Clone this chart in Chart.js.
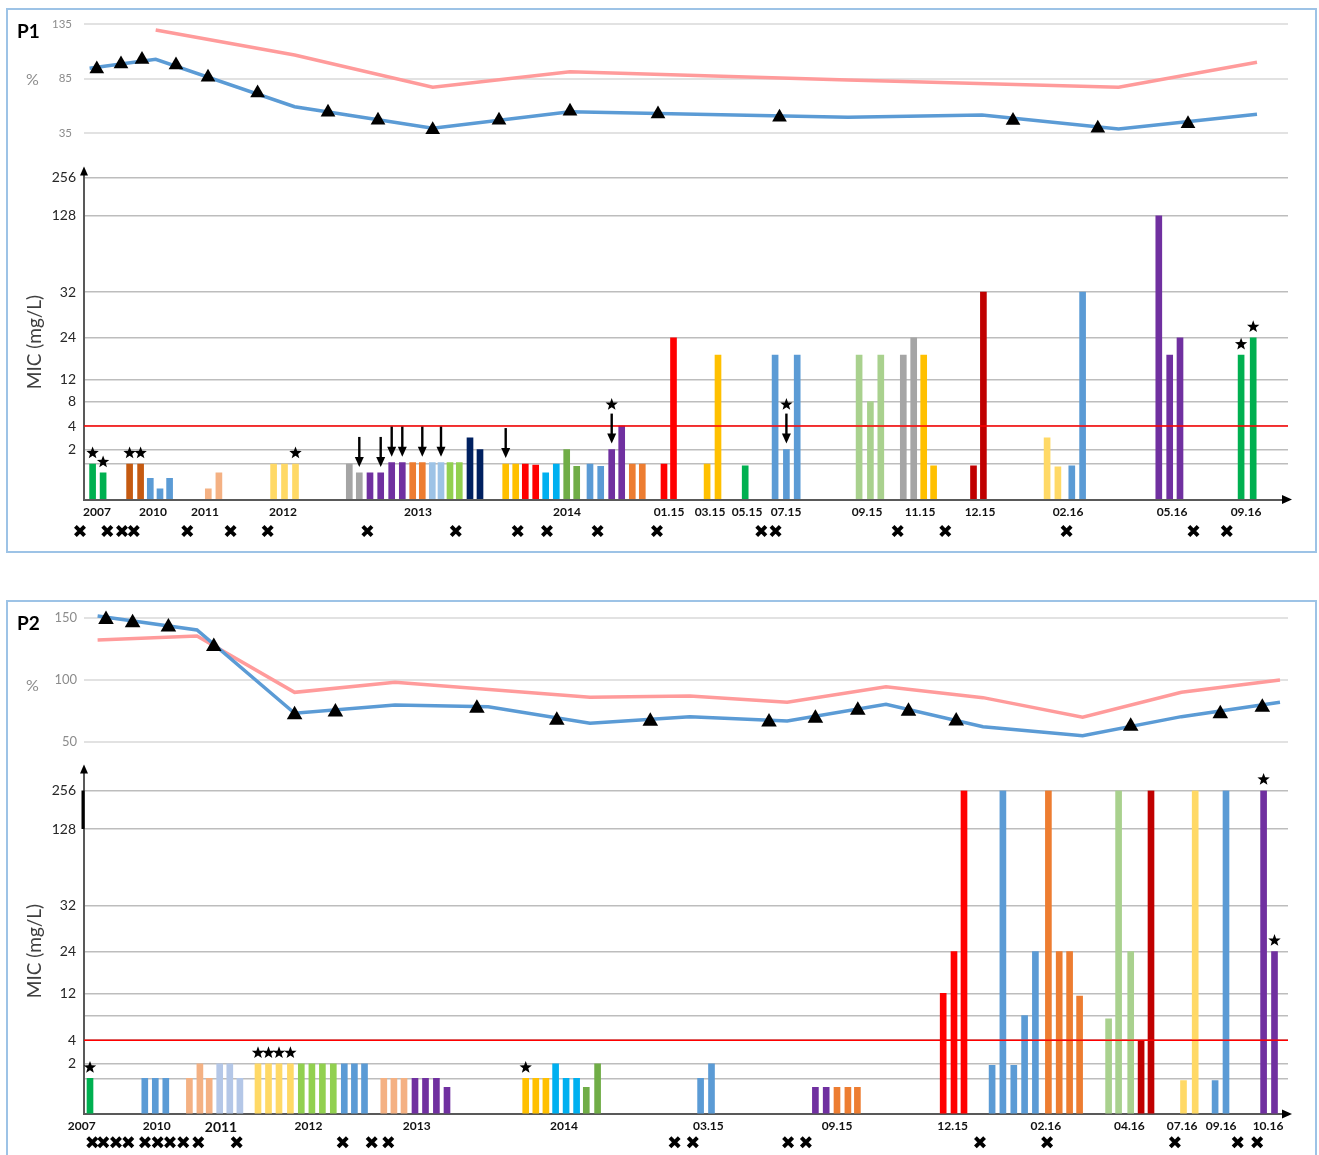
<!DOCTYPE html>
<html lang="en">
<head>
<meta charset="UTF-8">
<title>P1 / P2 - % and MIC (mg/L)</title>
<script src="https://cdn.jsdelivr.net/npm/chart.js"></script>
<style>
  body { margin: 0; background: #fff; font-family: 'Lato', sans-serif; }
  .page { position: relative; width: 1319px; height: 1155px; overflow: hidden; background: #fff; }
  .panel { position: absolute; left: 6px; width: 1307px; border: 2px solid #9dc3e6; }
  canvas { position: absolute; left: 0; }
  .txt { position: absolute; line-height: 1; white-space: nowrap; transform: translateY(-50%); }
  .tag { left: 17px; font-size: 19px; font-weight: bold; color: #000; }
  .pct { left: 26px; font-size: 16px; color: #8c8c8c; }
  .mic { left: 33px; font-size: 19px; color: #404040; transform: translate(-50%, -50%) rotate(-90deg); }
</style>
</head>
<body>
<div class="page">
  <div class="panel" style="top:8px;height:541px"></div>
  <div class="panel" style="top:600px;height:600px"></div>

  <canvas id="p1Top" width="1319" height="160" style="top:0"></canvas>
  <canvas id="p1Bar" width="1319" height="410" style="top:150px"></canvas>
  <canvas id="p2Top" width="1319" height="170" style="top:590px"></canvas>
  <canvas id="p2Bar" width="1319" height="395" style="top:760px"></canvas>

  <div class="txt tag" style="top:30px">P1</div>
  <div class="txt pct" style="top:79px">%</div>
  <div class="txt mic" style="top:342px">MIC (mg/L)</div>
  <div class="txt tag" style="top:622px">P2</div>
  <div class="txt pct" style="top:685px">%</div>
  <div class="txt mic" style="top:951px">MIC (mg/L)</div>
</div>

<script>
// x values are positions along the (irregular) sampling axis, one unit = one bar slot
const X_MAX = 120.4;

// MIC axis of the original is not proportional: level -> axis position
const micLevels = [0, 1, 2, 4, 8, 12, 24, 32, 128, 256];
const micLevelPos = [0, 11, 15.5, 22.8, 30.4, 37.3, 50.2, 64.4, 88.1, 100];
const micBreakpoint = 4;

// ---- P1 ----
const p1BlueX = [0.56, 7.17, 21.06, 34.87, 48.6, 76.4, 89.8, 103.46, 117.3];
const p1BlueY = [94.4, 102.6, 59.1, 39.3, 54.5, 49.4, 51.5, 38.7, 52.2];
const p1PinkX = [7.17, 21.06, 34.87, 48.6, 76.4, 103.46, 117.3];
const p1PinkY = [129.5, 106.6, 77, 91.2, 83.6, 77, 99.9];
const p1TriX = [1.28, 3.7, 5.8, 9.2, 12.4, 17.36, 24.4, 29.4, 34.87, 41.5, 48.6, 57.4, 69.55, 92.9, 101.38, 110.4];
const p1TriY = [93.8, 98.4, 102.4, 97.5, 86.2, 71.8, 54.1, 46.8, 37.9, 46.8, 55, 52.5, 49.5, 46.5, 39.4, 43.4];

const p1BarX = [0.86, 1.91, 4.56, 5.66, 6.63, 7.6, 8.56, 12.43, 13.49, 18.96, 20.05, 21.15,
  26.53, 27.53, 28.6, 29.67, 30.77, 31.83, 32.87, 33.83, 34.83, 35.7, 36.6, 37.53, 38.6, 39.6,
  42.17, 43.17, 44.13, 45.17, 46.17, 47.23, 48.27, 49.27, 50.6, 51.67, 52.77, 53.77, 54.83, 55.83,
  58.0, 58.95,
  62.31, 63.4, 66.12, 69.11, 70.24, 71.32, 77.51, 78.64, 79.68, 81.93, 82.97, 83.97, 84.96,
  88.95, 89.94, 96.31, 97.39, 98.78, 99.86, 107.48, 108.57, 109.6, 115.71, 116.92];
const p1BarMic = [1, 0.75, 1, 1, 0.6, 0.3, 0.6, 0.3, 0.75, 1, 1, 1,
  1, 0.75, 0.75, 0.75, 1.1, 1.1, 1.1, 1.1, 1.1, 1.1, 1.1, 1.1, 3, 2,
  1, 1, 1, 0.97, 0.75, 1, 2, 0.94, 1, 0.94, 2, 4, 1, 1,
  1, 24,
  1, 19, 0.95, 19, 2, 19, 19, 8, 19, 19, 24, 19, 0.95,
  0.95, 32, 3, 0.92, 0.95, 32, 128, 19, 24, 19, 24];
const p1Stars = [0, 1, 2, 3, 11, 36, 46, 64, 65];
const p1Arrows = [13, 15, 16, 17, 19, 21, 26, 36, 46];
const p1TickX = [1.3, 6.9, 12.1, 19.9, 33.4, 48.3, 58.5, 62.6, 66.3, 70.2, 78.3, 83.6, 89.6, 98.4, 108.8, 116.2];
const p1Ticks = ['2007', '2010', '2011', '2012', '2013', '2014', '01.15', '03.15', '05.15', '07.15', '09.15', '11.15', '12.15', '02.16', '05.16', '09.16'];
const p1CrossX = [-0.4, 2.33, 3.8, 4.98, 10.33, 14.66, 18.37, 28.34, 37.18, 43.37, 46.3, 51.36, 57.3,
  67.73, 69.16, 81.37, 86.13, 98.26, 110.95, 114.28];
const p1MicLabels = ['', '', '2', '4', '8', '12', '24', '32', '128', '256'];

// ---- P2 ----
const p2BlueX = [1.36, 11.3, 21.06, 31.1, 40.42, 50.6, 60.58, 70.32, 80.2, 89.9, 99.86, 109.74, 119.6];
const p2BlueY = [151.9, 140.5, 73, 79.7, 78.4, 64.9, 70.3, 66.8, 80.3, 62.2, 54.9, 70.3, 81.9];
const p2PinkX = [1.36, 11.3, 21.06, 31.1, 50.6, 60.58, 70.32, 80.2, 89.9, 99.86, 109.74, 119.6];
const p2PinkY = [132.4, 135.7, 90, 98.1, 86, 87, 81.9, 94.6, 85.7, 69.8, 90, 100];
const p2TriX = [2.2, 4.86, 8.44, 12.98, 21.06, 25.14, 39.29, 47.28, 56.63, 68.5, 73.14, 77.38, 82.45, 87.22, 104.67, 113.63, 117.83];
const p2TriY = [149.1, 146.4, 142.9, 127.2, 71.8, 74, 77.2, 67.3, 66.5, 65.9, 69.1, 75.4, 74.6, 66.7, 62.6, 72.6, 78];

const p2BarX = [0.6, 6.08, 7.13, 8.18, 10.54, 11.59, 12.52, 13.57, 14.58, 15.59,
  17.4, 18.45, 19.5, 20.64, 21.73, 22.79, 23.84, 24.93, 26.03, 27.04, 28.05,
  29.98, 30.99, 32.0, 33.1, 34.15, 35.24, 36.3,
  44.17, 45.18, 46.19, 47.16, 48.21, 49.26, 50.23, 51.36,
  61.66, 62.75, 73.14, 74.22, 75.3, 76.39, 77.34,
  85.92, 87.0, 88.0, 90.81, 91.89, 92.98, 94.06, 95.14, 96.44, 97.52, 98.56, 99.56,
  102.46, 103.46, 104.67, 105.71, 106.7, 109.95, 111.12, 113.11, 114.2, 117.96, 119.05];
const p2BarMic = [1, 1, 1, 1, 1, 2, 1, 2, 2, 1,
  2, 2, 2, 2, 2, 2, 2, 2, 2, 2, 2,
  1, 1, 1, 1, 1, 1, 0.75,
  1, 1, 1, 2, 1, 1, 0.75, 2,
  1, 2, 0.75, 0.75, 0.75, 0.75, 0.75,
  12, 24, 256, 1.9, 256, 1.9, 8, 24, 256, 24, 24, 11.5,
  7.5, 256, 24, 4, 256, 0.94, 256, 0.94, 256, 256, 24];
const p2Stars = [0, 10, 11, 12, 13, 28, 64, 65];
const p2Arrows = [];
const p2TickX = [-0.23, 7.27, 13.7, 22.45, 33.27, 48, 62.44, 75.3, 86.87, 96.18, 104.54, 109.82, 113.72, 118.4];
const p2Ticks = ['2007', '2010', '2011', '2012', '2013', '2014', '03.15', '09.15', '12.15', '02.16', '04.16', '07.16', '09.16', '10.16'];
const p2CrossX = [0.83, 1.93, 3.2, 4.43, 6.1, 7.37, 8.6, 9.93, 11.43, 15.27, 25.87, 28.77, 30.43,
  59.06, 60.88, 70.41, 72.19, 89.6, 96.31, 109.09, 115.37, 117.32];
const p2MicLabels = ['', '', '2', '4', '', '12', '24', '32', '128', '256'];

// bar colours (one colour per isolate type)
const GREEN = '#00b050', BROWN = '#c55a11', BLUE = '#5b9bd5', PEACH = '#f4b183', YELLOW = '#ffd966',
  GREY = '#a5a5a5', PURPLE = '#7030a0', ORANGE = '#ed7d31', PALEBLUE = '#9dc3e6', LIME = '#92d050',
  NAVY = '#002060', GOLD = '#ffc000', RED = '#ff0000', CYAN = '#00b0f0', OLIVE = '#70ad47',
  SAGE = '#a9d18e', DARKRED = '#c00000', LAVENDER = '#b4c7e7';

function runs(list) {
  const out = [];
  list.forEach(([c, n]) => { for (let i = 0; i < n; i++) out.push(c); });
  return out;
}

const p1BarColors = runs([[GREEN, 2], [BROWN, 2], [BLUE, 3], [PEACH, 2], [YELLOW, 3],
  [GREY, 2], [PURPLE, 4], [ORANGE, 2], [PALEBLUE, 2], [LIME, 2], [NAVY, 2],
  [GOLD, 2], [RED, 2], [CYAN, 2], [OLIVE, 2], [BLUE, 2], [PURPLE, 2], [ORANGE, 2],
  [RED, 2], [GOLD, 2], [GREEN, 1], [BLUE, 3], [SAGE, 3], [GREY, 2], [GOLD, 2],
  [DARKRED, 2], [YELLOW, 2], [BLUE, 2], [PURPLE, 3], [GREEN, 2]]);
const p2BarColors = runs([[GREEN, 1], [BLUE, 3], [PEACH, 3], [LAVENDER, 3], [YELLOW, 4], [LIME, 4],
  [BLUE, 3], [PEACH, 3], [PURPLE, 4], [GOLD, 3], [CYAN, 3], [OLIVE, 2], [BLUE, 2], [PURPLE, 2],
  [ORANGE, 3], [RED, 3], [BLUE, 5], [ORANGE, 4], [SAGE, 3], [DARKRED, 2], [YELLOW, 2], [BLUE, 2], [PURPLE, 2]]);

function micToAxis(v) {
  for (let i = 1; i < micLevels.length; i++) {
    if (v <= micLevels[i]) {
      const t = (v - micLevels[i - 1]) / (micLevels[i] - micLevels[i - 1]);
      return micLevelPos[i - 1] + t * (micLevelPos[i] - micLevelPos[i - 1]);
    }
  }
  return micLevelPos[micLevelPos.length - 1];
}

const zip = (xs, ys) => xs.map((x, i) => ({ x, y: ys[i] }));

Chart.defaults.font.family = 'Lato';
Chart.defaults.animation = false;
Chart.defaults.plugins.legend.display = false;
Chart.defaults.plugins.tooltip.enabled = false;

function drawStar(ctx, x, y, r) {
  ctx.beginPath();
  for (let i = 0; i < 10; i++) {
    const rr = i % 2 ? r * 0.42 : r;
    const a = -Math.PI / 2 + i * Math.PI / 5;
    ctx.lineTo(x + rr * Math.cos(a), y + rr * Math.sin(a));
  }
  ctx.closePath();
  ctx.fill();
}

function drawArrow(ctx, x, tip, len) {
  ctx.lineWidth = 2.4;
  ctx.beginPath();
  ctx.moveTo(x, tip - len);
  ctx.lineTo(x, tip - 8);
  ctx.stroke();
  ctx.beginPath();
  ctx.moveTo(x - 4.5, tip - 10);
  ctx.lineTo(x + 4.5, tip - 10);
  ctx.lineTo(x, tip);
  ctx.closePath();
  ctx.fill();
}

function drawCross(ctx, x, y) {
  ctx.lineWidth = 3.9;
  ctx.beginPath();
  ctx.moveTo(x - 4.6, y - 4.6); ctx.lineTo(x + 4.6, y + 4.6);
  ctx.moveTo(x + 4.6, y - 4.6); ctx.lineTo(x - 4.6, y + 4.6);
  ctx.stroke();
}

// stars, arrows, crosses and axis arrow heads
const marks = {
  id: 'marks',
  afterDraw(chart, args, o) {
    if (!o || !o.crosses) return;
    const { ctx, chartArea: a, scales: { x, y } } = chart;
    const bars = chart.getDatasetMeta(0).data;
    ctx.save();
    ctx.fillStyle = '#000';
    ctx.strokeStyle = '#000';
    o.arrows.forEach(i => drawArrow(ctx, bars[i].x, bars[i].y - 6, 30));
    o.stars.forEach(i => {
      const cy = o.arrows.includes(i) ? bars[i].y - 6 - 30 - 9 : bars[i].y - 11;
      drawStar(ctx, bars[i].x, cy, 6.5);
    });
    o.crosses.forEach(v => drawCross(ctx, x.getPixelForValue(v), a.bottom + o.crossGap));

    // y axis arrow
    ctx.strokeStyle = '#595959';
    ctx.lineWidth = 2;
    ctx.beginPath();
    ctx.moveTo(a.left, a.top);
    ctx.lineTo(a.left, a.top - o.yArrow + 6);
    ctx.stroke();
    ctx.beginPath();
    ctx.moveTo(a.left - 4, a.top - o.yArrow + 9);
    ctx.lineTo(a.left + 4, a.top - o.yArrow + 9);
    ctx.lineTo(a.left, a.top - o.yArrow);
    ctx.closePath();
    ctx.fill();
    // x axis arrow
    const tipX = a.right + 4;
    ctx.beginPath();
    ctx.moveTo(tipX - 10, a.bottom - 4.5);
    ctx.lineTo(tipX - 10, a.bottom + 4.5);
    ctx.lineTo(tipX, a.bottom);
    ctx.closePath();
    ctx.fill();

    if (o.thick) {
      ctx.strokeStyle = '#000';
      ctx.lineWidth = 3;
      ctx.beginPath();
      ctx.moveTo(a.left - 1, y.getPixelForValue(micToAxis(256)));
      ctx.lineTo(a.left - 1, y.getPixelForValue(micToAxis(128)));
      ctx.stroke();
    }
    ctx.restore();
  }
};

function makeTopChart(id, d) {
  return new Chart(document.getElementById(id), {
    type: 'line',
    data: {
      datasets: [
        { data: zip(d.triX, d.triY), showLine: false, pointStyle: 'triangle', pointRadius: d.triR,
          backgroundColor: '#000', borderColor: '#000', borderWidth: 0, clip: false, order: 0 },
        { data: zip(d.blueX, d.blueY), borderColor: '#5b9bd5', borderWidth: 3.5, pointRadius: 0,
          tension: 0, clip: false, order: 1 },
        { data: zip(d.pinkX, d.pinkY), borderColor: '#ff9b9b', borderWidth: 3.5, pointRadius: 0,
          tension: 0, clip: false, order: 2 }
      ]
    },
    options: {
      responsive: false,
      layout: { padding: d.padding },
      scales: {
        x: { type: 'linear', min: 0, max: X_MAX, display: false },
        y: {
          min: d.yMin, max: d.yMax,
          afterFit: s => { s.width = 40; },
          ticks: { stepSize: d.yStep, padding: d.tickPad, color: '#8c8c8c', font: { size: d.tickSize } },
          grid: { color: '#e2e2e2', lineWidth: 2, drawTicks: false },
          border: { display: false }
        }
      }
    }
  });
}

function makeBarChart(id, d) {
  return new Chart(document.getElementById(id), {
    type: 'bar',
    data: {
      datasets: [
        { data: zip(d.barX, d.mic.map(micToAxis)), backgroundColor: d.colors, barThickness: 6,
          borderWidth: 0, order: 1 },
        { type: 'line', data: [{ x: 0, y: micToAxis(micBreakpoint) }, { x: X_MAX, y: micToAxis(micBreakpoint) }],
          borderColor: '#ff0000', borderWidth: 1.5, pointRadius: 0, order: 0 }
      ]
    },
    options: {
      responsive: false,
      layout: { padding: d.padding },
      scales: {
        x: {
          type: 'linear', min: 0, max: X_MAX, offset: false,
          afterBuildTicks: s => { s.ticks = d.tickX.map(v => ({ value: v })); },
          afterFit: s => { s.height = 30; },
          ticks: {
            autoSkip: false, maxRotation: 0, padding: 5, color: '#111',
            callback: (v, i) => d.ticks[i],
            font: c => ({ weight: 'bold', size: d.ticks[c.index] === d.bigTick ? 14 : 12 })
          },
          grid: { display: false, drawTicks: false },
          border: { display: true, color: '#595959', width: 2 }
        },
        y: {
          min: 0, max: 100,
          afterBuildTicks: s => { s.ticks = micLevelPos.map(v => ({ value: v })); },
          afterFit: s => { s.width = 40; },
          ticks: { autoSkip: false, padding: 8, color: '#262626', font: { size: 14 },
            callback: (v, i) => d.micLabels[i] },
          grid: { color: '#bdbdbd', lineWidth: 1.5, drawTicks: false },
          border: { display: true, color: '#595959', width: 2 }
        }
      },
      plugins: {
        marks: { stars: d.stars, arrows: d.arrows, crosses: d.crosses, crossGap: d.crossGap,
          yArrow: d.yArrow, thick: d.thick }
      }
    },
    plugins: [marks]
  });
}

makeTopChart('p1Top', {
  triX: p1TriX, triY: p1TriY, blueX: p1BlueX, blueY: p1BlueY, pinkX: p1PinkX, pinkY: p1PinkY,
  triR: 8.5, yMin: 35, yMax: 135, yStep: 50, tickPad: 12, tickSize: 11.5,
  padding: { left: 44, right: 31, top: 24, bottom: 27 }
});
makeBarChart('p1Bar', {
  barX: p1BarX, mic: p1BarMic, colors: p1BarColors, stars: p1Stars, arrows: p1Arrows,
  tickX: p1TickX, ticks: p1Ticks, micLabels: p1MicLabels, crosses: p1CrossX,
  crossGap: 31.5, yArrow: 11, thick: false, bigTick: null,
  padding: { left: 44, right: 31, top: 27.5, bottom: 30.5 }
});
makeTopChart('p2Top', {
  triX: p2TriX, triY: p2TriY, blueX: p2BlueX, blueY: p2BlueY, pinkX: p2PinkX, pinkY: p2PinkY,
  triR: 9, yMin: 50, yMax: 150, yStep: 50, tickPad: 7, tickSize: 13,
  padding: { left: 44, right: 31, top: 28.3, bottom: 18.3 }
});
makeBarChart('p2Bar', {
  barX: p2BarX, mic: p2BarMic, colors: p2BarColors, stars: p2Stars, arrows: p2Arrows,
  tickX: p2TickX, ticks: p2Ticks, micLabels: p2MicLabels, crosses: p2CrossX,
  crossGap: 28.3, yArrow: 26, thick: true, bigTick: '2011',
  padding: { left: 44, right: 31, top: 30.5, bottom: 11 }
});
</script>
</body>
</html>
